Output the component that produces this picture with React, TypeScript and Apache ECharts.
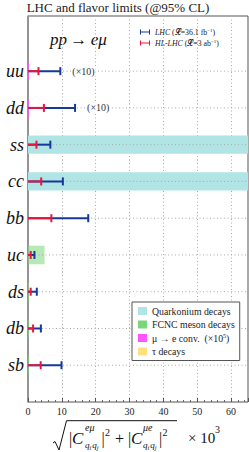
import React, { useEffect, useRef } from "react";
import * as echarts from "echarts";

// ---- data ----
const categories = ["uu", "dd", "ss", "cc", "bb", "uc", "ds", "db", "sb"];
const rowPositions = [9, 8, 7, 6, 5, 4, 3, 2, 1];
const lhcLimits = [9.55, 13.9, 6.6, 10.3, 17.8, 1.9, 2.6, 3.8, 9.9];
const hlLhcLimits = [3.1, 4.7, 2.5, 3.9, 6.9, 0.8, 0.8, 1.5, 3.75];
const scaledBy10 = ["uu", "dd"];

const quarkoniumCats = ["ss", "cc"];
const quarkoniumValues = [200, 200];
const fcncCats = ["uc", "ds", "db", "sb"];
const fcncValues = [4.9, 0.3, 0.3, 0.3];
const muECats = ["uu", "dd"];
const muEValues = [0.3, 0.3];
const tauCats: string[] = [];
const tauValues: number[] = [];

const xTicks = [0, 10, 20, 30, 40, 50, 60];
const X_MAX = 65;
const Y_MAX = 10.5;

const BLUE = "#16389a";
const RED = "#e5173f";
const SERIF = '"Liberation Serif", "Times New Roman", serif';

const posOf = (c: string) => rowPositions[categories.indexOf(c)];

function bandSeries(name: string, cats: string[], vals: number[], color: string, opacity: number) {
  return {
    type: "custom",
    name,
    z: 1,
    clip: true,
    itemStyle: { color },
    data: cats.map((c, i) => [vals[i], posOf(c)]),
    renderItem: (params: any, api: any) => {
      const v = Math.min(api.value(0), X_MAX);
      const y = api.value(1);
      const a = api.coord([0, y + 0.25]);
      const b = api.coord([v, y - 0.25]);
      return {
        type: "rect",
        shape: { x: a[0], y: a[1], width: b[0] - a[0], height: b[1] - a[1] },
        style: { fill: color, opacity },
      };
    },
  };
}

function errorSeries(name: string, vals: number[], color: string, z: number, withNote: boolean) {
  return {
    type: "custom",
    name,
    z,
    itemStyle: { color },
    data: categories.map((c, i) => [vals[i], rowPositions[i], scaledBy10.includes(c) ? 1 : 0]),
    renderItem: (params: any, api: any) => {
      const v = api.value(0);
      const y = api.value(1);
      const p0 = api.coord([0, y]);
      const p1 = api.coord([v, y]);
      const children: any[] = [
        { type: "line", shape: { x1: p0[0], y1: p0[1], x2: p1[0], y2: p1[1] }, style: { stroke: color, lineWidth: 2 } },
        { type: "line", shape: { x1: p1[0], y1: p1[1] - 4, x2: p1[0], y2: p1[1] + 4 }, style: { stroke: color, lineWidth: 2 } },
      ];
      if (withNote && api.value(2) === 1) {
        children.push({
          type: "text",
          x: p1[0] + 11,
          y: p1[1],
          style: {
            text: "(×10)",
            font: `10px ${SERIF}`,
            fill: "#333",
            verticalAlign: "middle",
            backgroundColor: "#fff",
            padding: [0, 1],
          },
        });
      }
      return { type: "group", children };
    },
  };
}

const ERRBAR_ICON = "path://M0,0h2v10h-2zM2,4h16v2h-16zM18,0h2v10h-2z";

function subQiQj(x: number, y: number) {
  const f = (t: string, dx: number, dy: number, size: number) => ({
    type: "text",
    x: x + dx,
    y: y + dy,
    style: { text: t, font: `italic ${size}px ${SERIF}`, fill: "#111", verticalAlign: "middle" },
  });
  return [f("q", 0, 0, 9), f("i", 4.6, 2, 6.5), f("q", 7.2, 0, 9), f("j", 11.8, 2, 6.5)];
}

export default function App() {
  const ref = useRef<HTMLDivElement>(null);
  useEffect(() => {
    if (!ref.current) return;
    const chart = echarts.init(ref.current, undefined, { renderer: "svg" });
    const labelMap: Record<number, string> = {};
    categories.forEach((c, i) => (labelMap[rowPositions[i]] = c));

    const option: any = {
      animation: false,
      backgroundColor: "#fff",
      textStyle: { fontFamily: SERIF },
      grid: { left: 28, right: 1, top: 16, bottom: 50, show: true, borderColor: "#555", borderWidth: 1, backgroundColor: "#fff" },
      xAxis: {
        type: "value",
        min: 0,
        max: X_MAX,
        interval: 10,
        axisLine: { show: false },
        axisTick: { show: true, inside: true, length: 4, lineStyle: { color: "#555" } },
        minorTick: { show: true, splitNumber: 5, length: 2, lineStyle: { color: "#666" } },
        splitLine: { show: true, lineStyle: { color: "#aaa", type: [1, 2.5], width: 1 } },
        axisLabel: {
          fontSize: 10,
          color: "#222",
          margin: 4,
          fontFamily: SERIF,
          showMaxLabel: false,
          formatter: (v: number) => (xTicks.includes(v) ? String(v) : ""),
        },
      },
      yAxis: {
        type: "value",
        min: 0,
        max: Y_MAX,
        interval: 1,
        axisLine: { show: true, lineStyle: { color: "#8c8c8c", width: 1.5 } },
        axisTick: { show: false },
        splitLine: { show: false },
        axisLabel: {
          fontSize: 18,
          fontStyle: "italic",
          color: "#111",
          margin: 4,
          fontFamily: SERIF,
          formatter: (v: number) => labelMap[v] ?? "",
        },
      },
      legend: [
        {
          data: ["LHC", "HL-LHC"],
          left: 140,
          top: 28,
          orient: "vertical",
          icon: ERRBAR_ICON,
          itemWidth: 10,
          itemHeight: 5,
          itemGap: 3,
          padding: 0,
          formatter: (n: string) =>
            n === "LHC" ? "{i|LHC} {n|(𝓛=36.1 fb}{s|−1}{n|)}" : "{i|HL-LHC} {n|(𝓛=3 ab}{s|−1}{n|)}",
          textStyle: {
            fontSize: 7.8,
            color: "#222",
            fontFamily: SERIF,
            rich: {
              i: { fontStyle: "italic", fontSize: 7.8, fontFamily: SERIF, color: "#222" },
              n: { fontSize: 7.8, fontFamily: SERIF, color: "#222" },
              s: { fontSize: 5, fontFamily: SERIF, color: "#222", verticalAlign: "top", padding: [0, 0, 3, 0] },
            },
          },
        },
        {
          data: ["Quarkonium decays", "FCNC meson decays", "μ → e conv.", "τ decays"],
          left: 132,
          top: 302,
          orient: "vertical",
          icon: "rect",
          itemWidth: 9,
          itemHeight: 8,
          itemGap: 3.5,
          padding: [4, 5, 4, 6],
          borderColor: "#555",
          borderWidth: 1,
          backgroundColor: "#fff",
          z: 10,
          formatter: (n: string) => (n === "μ → e conv." ? "{t|μ → e conv.  (×10}{s|5}{t|)}" : "{t|" + n + "}"),
          textStyle: {
            fontSize: 9.8,
            color: "#222",
            fontFamily: SERIF,
            rich: {
              t: { fontSize: 9.8, fontFamily: SERIF, color: "#222" },
              s: { fontSize: 6, fontFamily: SERIF, color: "#222", verticalAlign: "top", padding: [0, 0, 4, 0] },
            },
          },
        },
      ],
      series: [
        bandSeries("Quarkonium decays", quarkoniumCats, quarkoniumValues, "#b1e4e4", 1),
        bandSeries("FCNC meson decays", fcncCats, fcncValues, "#7bd67b", 0.55),
        bandSeries("μ → e conv.", muECats, muEValues, "#ff55ff", 0.8),
        bandSeries("τ decays", tauCats, tauValues, "#ffe07f", 1),
        {
          type: "custom",
          name: "rows",
          z: 2,
          silent: true,
          data: rowPositions.map((p) => [0, p]),
          renderItem: (params: any, api: any) => {
            const y = api.value(1);
            const a = api.coord([0, y]);
            const b = api.coord([X_MAX, y]);
            return {
              type: "line",
              shape: { x1: a[0], y1: a[1], x2: b[0], y2: b[1] },
              style: { stroke: "#aaa", lineWidth: 1, lineDash: [1, 2.5] },
            };
          },
        },
        errorSeries("LHC", lhcLimits, BLUE, 3, true),
        errorSeries("HL-LHC", hlLhcLimits, RED, 4, false),
      ],
      graphic: [
        {
          type: "text",
          x: 118,
          y: 7,
          style: { text: "LHC and flavor limits (@95% CL)", font: `13px ${SERIF}`, fill: "#222", align: "center", verticalAlign: "middle" },
        },
        {
          type: "text",
          x: 50,
          y: 39,
          style: {
            text: "{i|pp} {n|→} {i|eμ}",
            align: "left",
            verticalAlign: "middle",
            rich: {
              i: { font: `italic 17px ${SERIF}`, fill: "#111" },
              n: { font: `17px ${SERIF}`, fill: "#111" },
            },
          },
        },
        {
          type: "group",
          children: [
            {
              type: "polyline",
              shape: { points: [[53, 443], [55, 441.5], [59, 450], [66.5, 420.7], [177, 420.7]] },
              style: { stroke: "#111", lineWidth: 1, fill: null },
            },
            { type: "text", x: 69, y: 438, style: { text: "|", font: `16px ${SERIF}`, fill: "#111", verticalAlign: "middle" } },
            { type: "text", x: 72, y: 438, style: { text: "C", font: `italic 17px ${SERIF}`, fill: "#111", verticalAlign: "middle" } },
            { type: "text", x: 85, y: 427, style: { text: "eμ", font: `italic 10px ${SERIF}`, fill: "#111", verticalAlign: "middle" } },
            ...subQiQj(85, 445),
            { type: "text", x: 101.5, y: 438, style: { text: "|", font: `16px ${SERIF}`, fill: "#111", verticalAlign: "middle" } },
            { type: "text", x: 105, y: 432, style: { text: "2", font: `10px ${SERIF}`, fill: "#111", verticalAlign: "middle" } },
            { type: "text", x: 115, y: 438, style: { text: "+", font: `16px ${SERIF}`, fill: "#111", verticalAlign: "middle" } },
            { type: "text", x: 128, y: 438, style: { text: "|", font: `16px ${SERIF}`, fill: "#111", verticalAlign: "middle" } },
            { type: "text", x: 131, y: 438, style: { text: "C", font: `italic 17px ${SERIF}`, fill: "#111", verticalAlign: "middle" } },
            { type: "text", x: 143, y: 427, style: { text: "μe", font: `italic 10px ${SERIF}`, fill: "#111", verticalAlign: "middle" } },
            ...subQiQj(143, 445),
            { type: "text", x: 159, y: 438, style: { text: "|", font: `16px ${SERIF}`, fill: "#111", verticalAlign: "middle" } },
            { type: "text", x: 162.5, y: 432, style: { text: "2", font: `10px ${SERIF}`, fill: "#111", verticalAlign: "middle" } },
            { type: "text", x: 188, y: 438, style: { text: "× 10", font: `15px ${SERIF}`, fill: "#111", verticalAlign: "middle" } },
            { type: "text", x: 215, y: 429, style: { text: "3", font: `10px ${SERIF}`, fill: "#111", verticalAlign: "middle" } },
          ],
        },
      ],
    };
    chart.setOption(option);
    return () => chart.dispose();
  }, []);
  return <div ref={ref} style={{ position: "absolute", left: 0, top: 0, width: 249, height: 452 }} />;
}
